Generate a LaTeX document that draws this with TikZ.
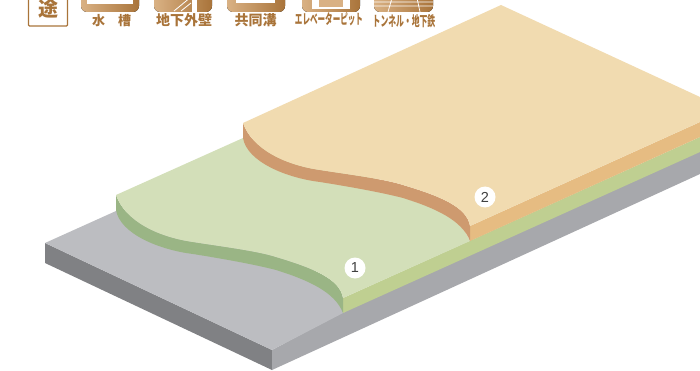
\documentclass[tikz,border=0pt]{standalone}
\usepackage{fontspec}
\setmainfont{Liberation Sans}
\newfontfamily\jp{Noto Sans CJK JP}
\definecolor{basetop}{HTML}{BCBDC1}
\definecolor{baseleft}{HTML}{808184}
\definecolor{baseright}{HTML}{A7A8AC}
\definecolor{greentop}{HTML}{D3DFB9}
\definecolor{greenside}{HTML}{9AB585}
\definecolor{greenfront}{HTML}{BFCF91}
\definecolor{oratop}{HTML}{F1DBB0}
\definecolor{oraside}{HTML}{CE9A6F}
\definecolor{orafront}{HTML}{E6BC82}
\definecolor{brownA}{HTML}{A9743A}
\definecolor{brownL}{HTML}{D9B184}
\tikzset{
  num/.style={circle,fill=white,minimum size=21pt,inner sep=0pt,font=\fontsize{14.5}{14.5}\selectfont,text=black!75},
  lab/.style={font=\jp\bfseries\fontsize{14}{14}\selectfont,text=brownA,inner sep=0pt},
  icon/.style={rounded corners=6pt,left color=brownL,right color=brownA,draw=none},
  inner/.style={fill=white,draw=none}
}
\def\sidecurve{(243,123) .. controls (252,149) and (285,165) .. (320,170)
  .. controls (345,174) and (385,179) .. (403,185)
  .. controls (440,196) and (467,207) .. (470,226) -- (470,241)
  .. controls (462,220) and (435,208) .. (403,198)
  .. controls (380,192) and (345,186) .. (320,182)
  .. controls (287,178) and (247,162) .. (243,138) -- cycle}
\def\topcurve{(470,226) .. controls (467,207) and (440,196) .. (403,185)
  .. controls (385,179) and (345,174) .. (320,170)
  .. controls (285,165) and (252,149) .. (243,123)}
\begin{document}
\begin{tikzpicture}[x=1pt,y=-1pt]
\useasboundingbox (0,0) rectangle (700,371);
% base
\fill[baseleft] (45,243) -- (272,350) -- (272,370) -- (45,263) -- cycle;
\fill[baseright] (272,350) -- (343,312) -- (700,151) -- (700,174) -- (272,370) -- cycle;
\fill[basetop] (45,243) -- (116,211) -- (300,250) -- (345,312) -- (272,350) -- cycle;
% green layer
\fill[greenfront] (343,298) -- (700,137) -- (700,152) -- (343,313) -- cycle;
\begin{scope}[shift={(-127,72)}]
\fill[greenside] \sidecurve;
\fill[greentop] (243,123) -- (370,66) -- (447,78) -- (587,150) -- (597,169) -- (470,226) -- \topcurve -- cycle;
\end{scope}
% orange layer
\fill[orafront] (470,226) -- (700,122) -- (700,137) -- (470,241) -- cycle;
\fill[oraside] \sidecurve;
\fill[oratop] (243,123) -- (501,5) -- (700,97) -- (700,122) -- \topcurve -- cycle;
\node[num] (n1) at (355,268) {1};
\node[num] (n2) at (485,197) {2};
% header
\draw[brownA,line width=1.1pt,rounded corners=1pt] (28.5,-3) -- (28.5,26) -- (67.5,26) -- (67.5,-3);
\node[font=\jp\bfseries\fontsize{20}{20}\selectfont,text=brownA,inner sep=0pt] (yo) at (48,9) {途};
\fill[icon] (81,-8) rectangle (139,12);
\fill[inner] (87,-8) rectangle (133,4);
\node[lab,font=\jp\bfseries\fontsize{13}{13}\selectfont] (l1) at (111.5,20.5) {水\hspace{13pt}槽};
\fill[icon] (154,-8) rectangle (212,12);
\fill[inner] (192,-8) rectangle (197,12);
\draw[white,line width=.8pt] (174,11) -- (191,-3) (181,11) -- (191,3);
\node[lab] (l2) at (184,20) {地下外壁};
\fill[icon] (227,-8) rectangle (285,12);
\fill[inner] (236,-8) rectangle (275,3);
\node[lab] (l3) at (255.5,20) {共同溝};
\fill[icon] (302,-8) rectangle (360,12);
\fill[inner] (312,-8) rectangle (350,9);
\fill[brownL] (319,-2) rectangle (343,7);
\node[lab,xscale=.54] (l4) at (329,19.5) {エレベーターピット};
\fill[icon] (374,-8) rectangle (433,12);
\draw[white,line width=.7pt] (374,2) -- (433,2) (374,6) -- (433,6) (388,12) -- (392,-2) (420,12) -- (417,-2);
\node[lab,xscale=.56] (l5) at (404,21.5) {トンネル・地下鉄};
\end{tikzpicture}
\end{document}
